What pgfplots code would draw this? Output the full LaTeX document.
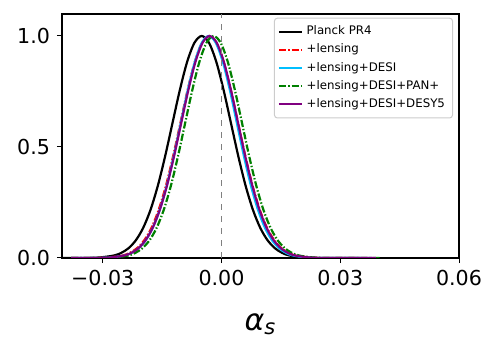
\documentclass[border=0pt]{standalone}
\usepackage{fontspec}
\setmainfont{DejaVu Sans}
\usepackage{pgfplots}
\pgfplotsset{compat=1.18}
\definecolor{mplcyan}{HTML}{00BFFF}
\definecolor{mplgreen}{HTML}{008000}
\definecolor{mplpurple}{HTML}{800080}
\definecolor{legframe}{HTML}{CCCCCC}
\tikzset{dashdot/.style={dash pattern=on 3.6pt off 1pt on 0.7pt off 1pt}}

\begin{document}
\begin{tikzpicture}
\begin{axis}[
  scale only axis, width=198.5pt, height=122pt,
  xmin=-0.0403, xmax=0.06, ymin=0, ymax=1.099,
  scaled x ticks=false, scaled y ticks=false,
  xtick={-0.03,0,0.03,0.06}, xticklabels={−0.03,0.00,0.03,0.06},
  ytick={0,0.5,1}, yticklabels={0.0,0.5,1.0},
  tick align=outside, major tick length=2.5pt,
  xtick pos=bottom, ytick pos=left,
  tick style={line width=0.5pt, black},
  axis line style={line width=0.6pt},
  ticklabel style={font=\fontsize{10.3}{12}\selectfont},
  xlabel={\fontsize{15}{18}\selectfont\itshape α\textsubscript{s}},
  xlabel style={yshift=-7pt},
  legend style={at={(axis description cs:0.985,0.985)}, anchor=north east,
    font=\fontsize{5.9}{6.5}\selectfont, draw=legframe, rounded corners=1.5pt,
    row sep=-0.9pt, inner sep=1.8pt, line width=0.5pt},
  legend cell align=left,
  legend image code/.code={\draw[#1, sharp plot, line width=0.9pt] (0cm,0cm) -- (0.4cm,0cm);},
  every axis plot/.append style={line width=1.1pt, smooth},
]
\addplot[black] coordinates {
(-0.040,0) (-0.0346,0.0003) (-0.0309,0.0022) (-0.0272,0.0111) (-0.02535,0.0228) (-0.0235,0.0439)
(-0.02165,0.0796) (-0.0198,0.1353) (-0.01795,0.2163) (-0.0161,0.3247) (-0.01425,0.4578)
(-0.0124,0.6065) (-0.01055,0.7548) (-0.0087,0.8825) (-0.00685,0.9692) (-0.005,1)
(-0.00315,0.9692) (-0.0013,0.8825) (0.00055,0.7548) (0.0024,0.6065) (0.00425,0.4578)
(0.0061,0.3247) (0.00795,0.2163) (0.0098,0.1353) (0.01165,0.0796) (0.0135,0.0439)
(0.01535,0.0228) (0.0172,0.0111) (0.0209,0.0022) (0.0246,0.0003) (0.035,0)};
\addlegendentry{Planck PR4}
\addplot[red, dashdot] coordinates {
(-0.038,0) (-0.0323,0.0003) (-0.02865,0.0022) (-0.025,0.0111) (-0.02318,0.0228) (-0.02135,0.0439)
(-0.01953,0.0796) (-0.0177,0.1353) (-0.01588,0.2163) (-0.01405,0.3247) (-0.01223,0.4578)
(-0.0104,0.6065) (-0.00858,0.7548) (-0.00675,0.8825) (-0.00493,0.9692) (-0.0031,1)
(-0.00128,0.9692) (0.00055,0.8825) (0.00238,0.7548) (0.0042,0.6065) (0.00603,0.4578)
(0.00785,0.3247) (0.00968,0.2163) (0.0115,0.1353) (0.01333,0.0796) (0.01515,0.0439)
(0.01698,0.0228) (0.0188,0.0111) (0.02245,0.0022) (0.0261,0.0003) (0.038,0)};
\addlegendentry{+lensing}
\addplot[mplcyan] coordinates {
(-0.038,0) (-0.0316,0.0003) (-0.02805,0.0022) (-0.0245,0.0111) (-0.02273,0.0228) (-0.02095,0.0439)
(-0.01918,0.0796) (-0.0174,0.1353) (-0.01563,0.2163) (-0.01385,0.3247) (-0.01208,0.4578)
(-0.0103,0.6065) (-0.00853,0.7548) (-0.00675,0.8825) (-0.00498,0.9692) (-0.0032,1)
(-0.00143,0.9692) (0.00035,0.8825) (0.00213,0.7548) (0.0039,0.6065) (0.00568,0.4578)
(0.00745,0.3247) (0.00923,0.2163) (0.011,0.1353) (0.01278,0.0796) (0.01455,0.0439)
(0.01633,0.0228) (0.0181,0.0111) (0.02165,0.0022) (0.0252,0.0003) (0.038,0)};
\addlegendentry{+lensing+DESI}
\addplot[mplgreen, dashdot] coordinates {
(-0.038,0) (-0.0308,0.0003) (-0.0272,0.0022) (-0.0236,0.0111) (-0.0218,0.0228) (-0.02,0.0439)
(-0.0182,0.0796) (-0.0164,0.1353) (-0.0146,0.2163) (-0.0128,0.3247) (-0.011,0.4578)
(-0.0092,0.6065) (-0.0074,0.7548) (-0.0056,0.8825) (-0.0038,0.9692) (-0.002,1)
(-0.0002,0.9692) (0.0016,0.8825) (0.0034,0.7548) (0.0052,0.6065) (0.007,0.4578)
(0.0088,0.3247) (0.0106,0.2163) (0.0124,0.1353) (0.0142,0.0796) (0.016,0.0439)
(0.0178,0.0228) (0.0196,0.0111) (0.0232,0.0022) (0.0268,0.0003) (0.04,0)};
\addlegendentry{+lensing+DESI+PAN+}
\addplot[mplpurple] coordinates {
(-0.038,0) (-0.0318,0.0003) (-0.0282,0.0022) (-0.0246,0.0111) (-0.0228,0.0228) (-0.021,0.0439)
(-0.0192,0.0796) (-0.0174,0.1353) (-0.0156,0.2163) (-0.0138,0.3247) (-0.012,0.4578)
(-0.0102,0.6065) (-0.0084,0.7548) (-0.0066,0.8825) (-0.0048,0.9692) (-0.003,1)
(-0.0012,0.9692) (0.0006,0.8825) (0.0024,0.7548) (0.0042,0.6065) (0.006,0.4578)
(0.0078,0.3247) (0.0096,0.2163) (0.0114,0.1353) (0.0132,0.0796) (0.015,0.0439)
(0.0168,0.0228) (0.0186,0.0111) (0.0222,0.0022) (0.0258,0.0003) (0.039,0)};
\addlegendentry{+lensing+DESI+DESY5}
\addplot[gray, dashed, line width=0.5pt, sharp plot, forget plot] coordinates {(0,0) (0,1.099)};
\end{axis}
\pgfresetboundingbox
\path (current axis.south west) ++(-31pt,-45pt) rectangle ([shift={(19.5pt,7pt)}]current axis.north east);
\end{tikzpicture}
\end{document}
